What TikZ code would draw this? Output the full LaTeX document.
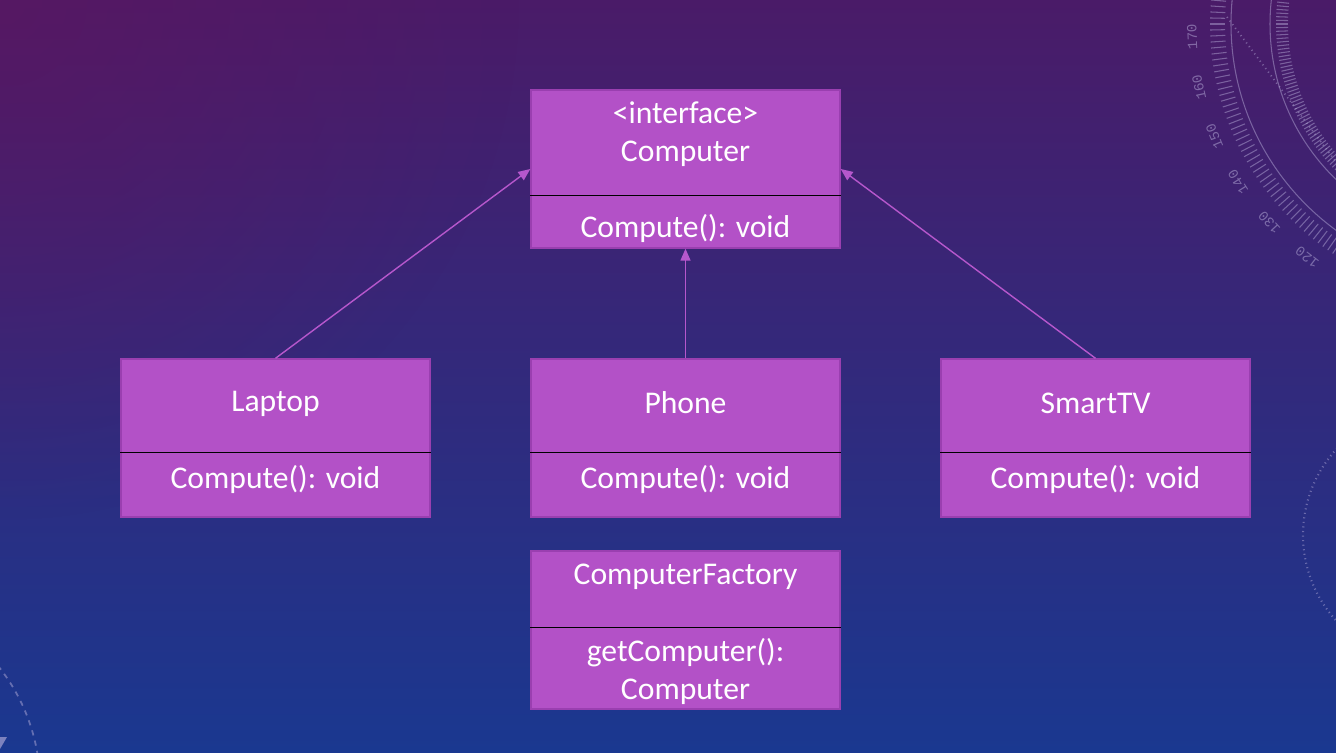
\documentclass[tikz,border=0pt]{standalone}
\usepackage{fontspec}
\setmainfont{Carlito}
\newfontfamily\dialfont{Liberation Mono}
\usetikzlibrary{positioning,arrows.meta,calc,fadings}

\definecolor{bgtop}{HTML}{4A1B68}
\definecolor{bgmid}{HTML}{34287C}
\definecolor{bgbot}{HTML}{1A3890}
\definecolor{bgglow}{HTML}{5E1660}
\definecolor{boxfill}{HTML}{B351C7}
\definecolor{boxedge}{HTML}{9A3FB0}
\definecolor{linkcol}{HTML}{B657CC}
\definecolor{dialcol}{HTML}{BDB4DE}

\tikzfading[name=glowfade, inner color=transparent!0, outer color=transparent!100]

\begin{document}
\begin{tikzpicture}[
    x=0.02cm, y=-0.02cm,
    >={Triangle[length=0.24cm,width=0.2cm]},
    cls/.style={rectangle, draw=boxedge, line width=0.8pt, fill=boxfill, minimum width=6.18cm, minimum height=3.16cm, inner sep=0pt},
    txt/.style={text=white, align=center, font=\fontsize{18}{21.6}\selectfont, inner sep=0pt},
    divider/.style={black, line width=0.8pt},
    inherit/.style={->, draw=linkcol, line width=0.8pt},
    ring/.style={draw=dialcol, draw opacity=0.45, line width=0.6pt},
    dial/.style={text=dialcol, text opacity=0.5, font=\dialfont\fontsize{8}{9}\selectfont, inner sep=0pt}
  ]
    % background
    \useasboundingbox (0,0) rectangle (1336,753);
    \shade[top color=bgtop, middle color=bgmid, bottom color=bgbot] (0,0) rectangle (1336,753);
    \begin{scope}
      \clip (0,0) rectangle (1336,753);
      \fill[bgglow, opacity=0.6, path fading=glowfade] (0,0) circle[radius=520];
    \end{scope}

    % dial decoration
    \begin{scope}
      \clip (0,0) rectangle (1336,753);
      \draw[ring] (1486,24) circle[radius=255];
      \draw[ring] (1486,24) circle[radius=216];
      \foreach \a in {110,111.25,...,192} \draw[ring] (1486,24) ++(\a:261) -- ++(\a:15);
      \foreach \a in {130,131,...,186} \draw[ring] (1486,24) ++(\a:198) -- ++(\a:12);
      \draw[ring, dotted, line width=1pt] (1227,17) -- (1336,162);
      \foreach \n in {120,130,...,170} {
        \pgfmathsetmacro{\ang}{\n+7.5}
        \pgfmathsetmacro{\rot}{262.5-\n}
        \node[dial, rotate=\rot] (dial\n) at ([shift={(\ang:294)}]1486,24) {\n};
      }
      \draw[ring, dotted, line width=1.2pt] (1430,535) circle[radius=127];
      \draw[ring, dashed, line width=1pt] (-150,785) circle[radius=190];
      \fill[dialcol, opacity=0.6] (0,737) -- (7,737) -- (0,749) -- cycle;
    \end{scope}

    % classes
    \node[cls] (comp) at (685.5,169) {};
    \draw[divider] ([yshift=-2.12cm]comp.north west) -- ([yshift=-2.12cm]comp.north east);
    \node[txt] (compName) at (685.5,134) {<interface>\\Computer};
    \node[txt] (compOp) at (685.5,228) {Compute(): void};

    \node[cls] (laptop) at (275.5,438) {};
    \draw[divider] ([yshift=-1.88cm]laptop.north west) -- ([yshift=-1.88cm]laptop.north east);
    \node[txt] (laptopName) at (275.5,404) {Laptop};
    \node[txt] (laptopOp) at (275.5,479) {Compute(): void};

    \node[cls] (phone) at (685.5,438) {};
    \draw[divider] ([yshift=-1.88cm]phone.north west) -- ([yshift=-1.88cm]phone.north east);
    \node[txt] (phoneName) at (685.5,403) {Phone};
    \node[txt] (phoneOp) at (685.5,479) {Compute(): void};

    \node[cls] (tv) at (1095.5,438) {};
    \draw[divider] ([yshift=-1.88cm]tv.north west) -- ([yshift=-1.88cm]tv.north east);
    \node[txt] (tvName) at (1095.5,403) {SmartTV};
    \node[txt] (tvOp) at (1095.5,479) {Compute(): void};

    \node[cls] (factory) at (685.5,630) {};
    \draw[divider] ([yshift=-1.54cm]factory.north west) -- ([yshift=-1.54cm]factory.north east);
    \node[txt] (factoryName) at (685.5,577) {ComputerFactory};
    \node[txt] (factoryOp) at (685.5,671.5) {getComputer():\\Computer};

    % realisation arrows
    \draw[inherit] (laptop.north) -- (comp.west);
    \draw[inherit] (phone.north) -- (comp.south);
    \draw[inherit] (tv.north) -- (comp.east);
  \end{tikzpicture}
\end{document}
